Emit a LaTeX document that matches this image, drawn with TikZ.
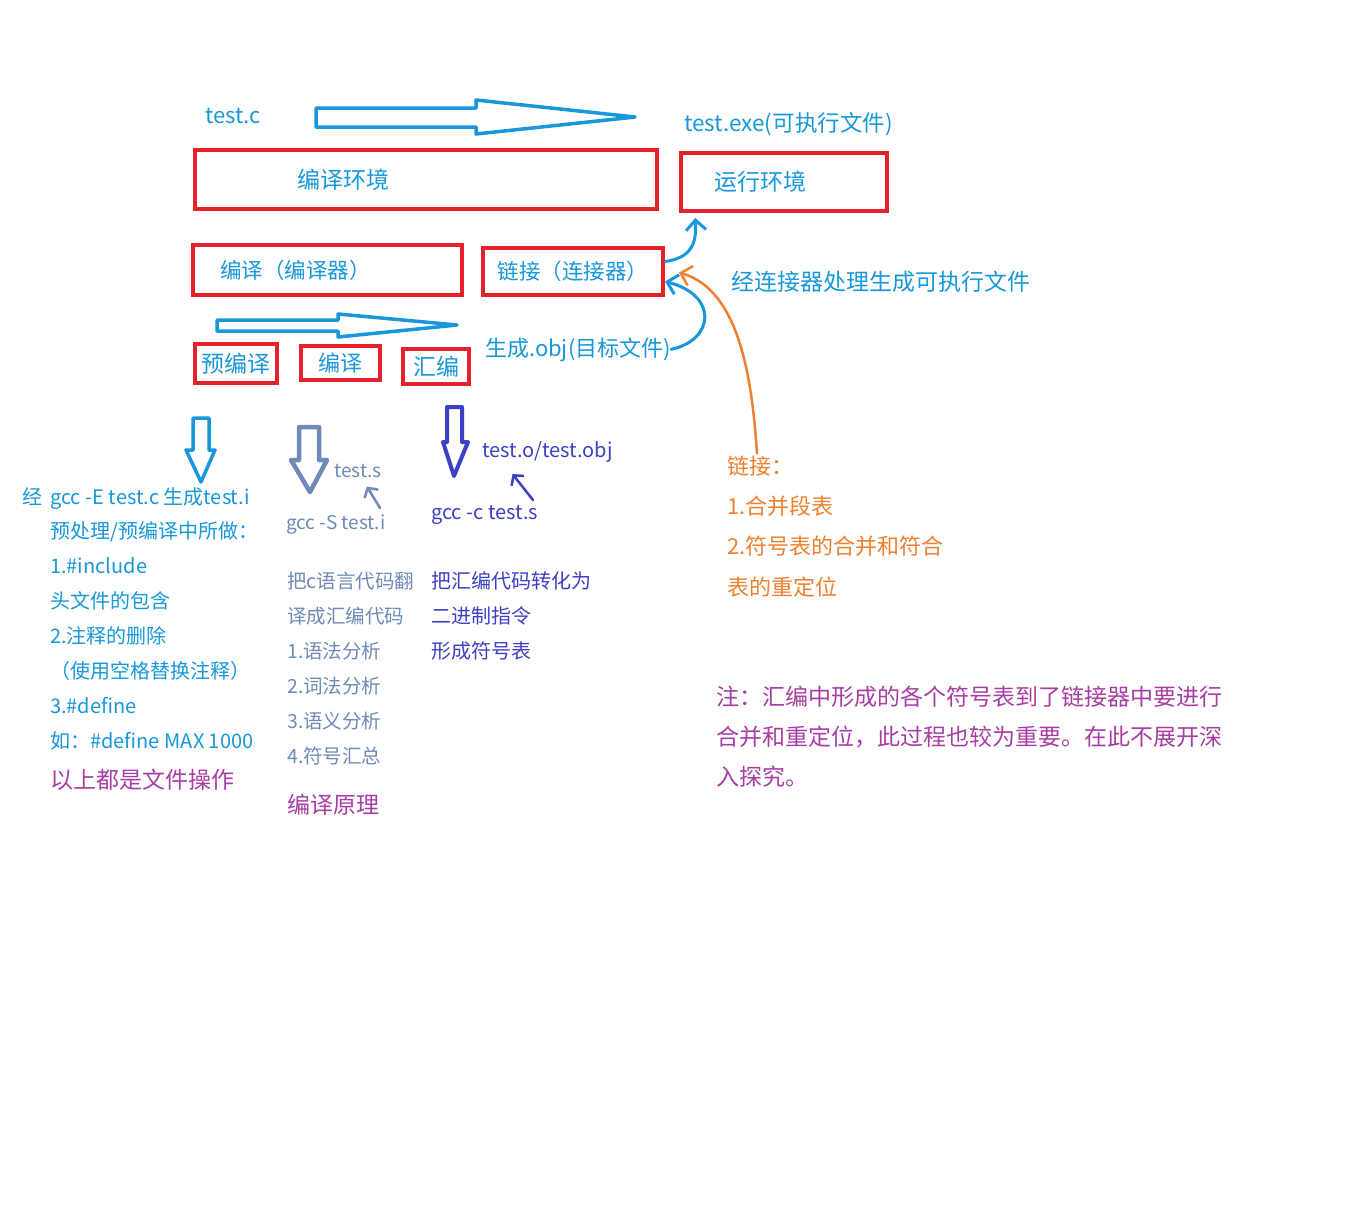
\documentclass[tikz,border=0pt]{standalone}
\usepackage{fontspec}
\setmainfont{Noto Sans CJK SC}
\usetikzlibrary{arrows.meta}
\definecolor{penblue}{RGB}{24,152,218}
\definecolor{boxred}{RGB}{232,32,42}
\definecolor{slate}{RGB}{112,138,184}
\definecolor{inkblue}{RGB}{62,64,196}
\definecolor{plum}{RGB}{168,62,164}
\definecolor{penorange}{RGB}{240,128,48}
\newcommand{\sz}[1]{\fontsize{#1}{#1}\selectfont}

\begin{document}
\begin{tikzpicture}[
    x=1pt, y=1pt,
    redbox/.style={draw=boxred, line width=4pt, inner sep=0pt, align=left,
                   text=penblue, font=\sz{23}},
    txt/.style={anchor=base west, inner sep=0pt, align=left},
    hollow/.style={line width=3.5pt, line join=round, fill=white},
    penline/.style={->, >={Straight Barb[length=10pt, width=20pt]}, line width=3pt, line cap=round},
    tinyline/.style={->, >={Straight Barb[length=7pt, width=16pt]}, line width=2.5pt, line cap=round}
]
    \path[fill=white, use as bounding box] (0,0) rectangle (1362,-1211);

    % top row: source and executable
    \node[txt, text=penblue, font=\sz{22}] (testc) at (205,-123) {test.c};
    \node[txt, text=penblue, font=\sz{22.5}] (testexe) at (684,-131) {test.exe(可执行文件)};
    \draw[hollow, draw=penblue] (316,-108) -- (476,-108) -- (476,-100) -- (635,-117)
        -- (476,-134) -- (476,-127) -- (316,-127) -- cycle;

    % environments
    \node[redbox, minimum width=462, minimum height=59, text width=258, inner xsep=102] (compenv) at (426,-179.5) {编译环境};
    \node[redbox, minimum width=206, minimum height=58, text width=140, inner xsep=33] (runenv) at (784,-182) {运行环境};

    % compiler and linker
    \node[redbox, font=\sz{21.5}, minimum width=269, minimum height=50, text width=215, inner xsep=27] (compiler) at (327.5,-270) {编译（编译器）};
    \node[redbox, font=\sz{21.5}, minimum width=180, minimum height=47] (linker) at (573,-271.5) {链接（连接器）};
    \node[txt, text=penblue, font=\sz{23}] (linkdesc) at (731,-290) {经连接器处理生成可执行文件};

    % three stages
    \draw[hollow, draw=penblue] (217,-320) -- (338,-320) -- (338,-314) -- (457,-325)
        -- (338,-337) -- (338,-331) -- (217,-331) -- cycle;
    \node[redbox, minimum width=82, minimum height=39] (precomp) at (236,-363.5) {预编译};
    \node[redbox, font=\sz{22}, minimum width=79, minimum height=34] (comp) at (340.5,-363) {编译};
    \node[redbox, minimum width=66, minimum height=35] (asm) at (436,-366.5) {汇编};
    \node[txt, text=penblue, font=\sz{22}] (objtxt) at (485,-356) {生成.obj(目标文件)};

    % hand drawn arrows to linker and run environment
    \draw[penline, draw=penblue] (objtxt.east) .. controls (715,-340) and (718,-295) .. ([yshift=-10pt]linker.east);
    \draw[penline, draw=penblue, shorten >=5pt] ([yshift=10pt]linker.east) .. controls (690,-258) and (697,-245) .. ([xshift=16pt]runenv.south west);

    % down arrows
    \draw[hollow, draw=penblue] (193,-418) -- (209,-418) -- (209,-450) -- (215,-450)
        -- (201,-482) -- (186,-450) -- (193,-450) -- cycle;
    \draw[hollow, draw=slate, line width=4.5pt] (299,-427) -- (319,-427) -- (319,-460) -- (327,-460)
        -- (310,-492) -- (291,-460) -- (299,-460) -- cycle;
    \draw[hollow, draw=inkblue, line width=4pt] (447,-407) -- (462,-407) -- (462,-442) -- (468,-442)
        -- (454,-476) -- (443,-442) -- (447,-442) -- cycle;

    % preprocessing column (base = last line)
    \node[txt, text=penblue, font=\sz{20}] (jing) at (22,-504) {经};
    \node[txt, text=penblue, font=\fontsize{20}{34.9}\selectfont] (prep) at (50,-748.3)
        {gcc -E test.c 生成test.i\\预处理/预编译中所做：\\1.\#include\\头文件的包含\\2.注释的删除\\（使用空格替换注释）\\3.\#define\\如：\#define MAX 1000};
    \node[txt, text=plum, font=\sz{23}] (fileops) at (50,-788) {以上都是文件操作};

    % compiling column
    \node[txt, text=slate, font=\sz{19}] (tests) at (334,-477) {test.s};
    \node[txt, text=slate, font=\sz{19}] (gccS) at (286,-529) {gcc -S test.i};
    \coordinate (sTail) at (380,-508);
    \draw[tinyline, draw=slate] (sTail) -- ([xshift=9pt,yshift=-9pt]tests.south);
    \node[txt, text=slate, font=\fontsize{19.5}{35}\selectfont] (compnote) at (287,-763)
        {把c语言代码翻\\译成汇编代码\\1.语法分析\\2.词法分析\\3.语义分析\\4.符号汇总};
    \node[txt, text=plum, font=\sz{23}] (theory) at (287,-813) {编译原理};

    % assembling column
    \node[txt, text=inkblue, font=\sz{20}] (testo) at (482,-457) {test.o/test.obj};
    \node[txt, text=inkblue, font=\sz{20}] (gccc) at (431,-519) {gcc -c test.s};
    \coordinate (oTail) at (533,-500);
    \draw[tinyline, draw=inkblue] (oTail) -- ([xshift=-35pt,yshift=-12pt]testo.south);
    \node[txt, text=inkblue, font=\fontsize{20}{35}\selectfont] (asmnote) at (431,-658)
        {把汇编代码转化为\\二进制指令\\形成符号表};

    % linking notes
    \node[txt, text=penorange, font=\fontsize{22}{40.3}\selectfont] (linknote) at (727,-595)
        {链接：\\1.合并段表\\2.符号表的合并和符合\\表的重定位};
    \draw[penline, draw=penorange, line width=2.5pt] ([xshift=30pt,yshift=2pt]linknote.north west) .. controls (752,-380) and (740,-290) .. ([xshift=14pt,yshift=-1pt]linker.east);
    \node[txt, text=plum, font=\fontsize{23}{40}\selectfont] (remark) at (716,-785)
        {注：汇编中形成的各个符号表到了链接器中要进行\\合并和重定位，此过程也较为重要。在此不展开深\\入探究。};
\end{tikzpicture}
\end{document}
